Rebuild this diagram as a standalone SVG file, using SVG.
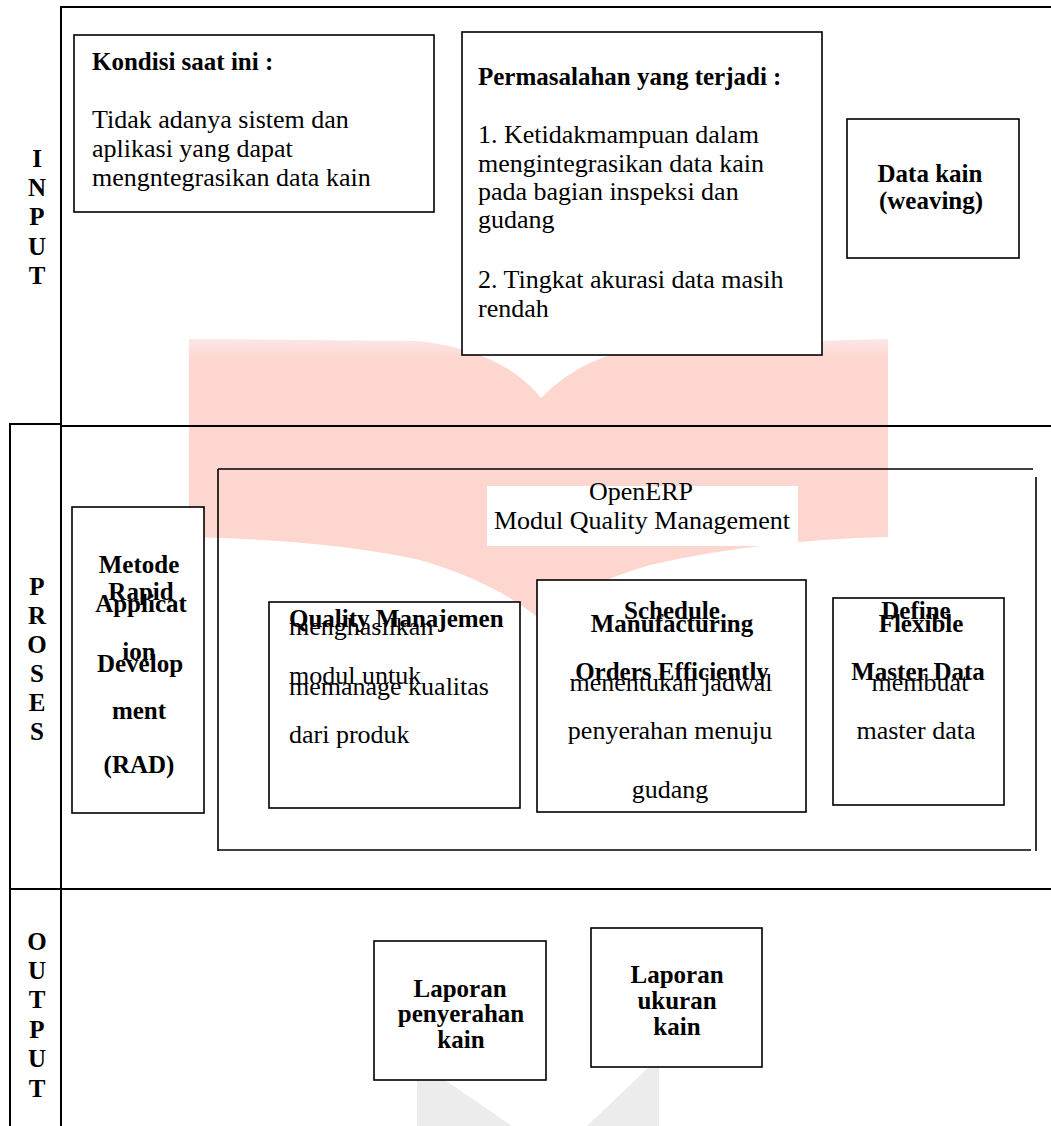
<svg xmlns="http://www.w3.org/2000/svg" width="1051" height="1126" viewBox="0 0 1051 1126">
<style>
text{font-family:"Liberation Serif","Times New Roman",serif;fill:#000}
.b{font-weight:bold;font-size:25px}
.n{font-size:26px}
.c{text-anchor:middle}
.lab{font-weight:bold;font-size:25px;text-anchor:middle}
.box{fill:#fff;stroke:#000;stroke-width:1.6}
.ln{stroke:#000;stroke-width:2;fill:none}
.thin{stroke:#000;stroke-width:1.6;fill:none}
</style>
<defs>
<linearGradient id="pg" x1="0" y1="339" x2="0" y2="360" gradientUnits="userSpaceOnUse">
<stop offset="0" stop-color="#fbe6e6"/>
<stop offset="1" stop-color="#fdd6cf"/>
</linearGradient>
</defs>
<rect x="0" y="0" width="1051" height="1126" fill="#fff"/>
<g id="watermark">
<path fill="url(#pg)" d="M189,339 L420,341 Q505,352 541,398 Q585,352 660,345 L888,339 L888,537 Q760,540 650,565 Q580,585 541,620 Q495,582 420,560 Q330,540 189,537 Z"/>
<path fill="#ececec" d="M417,1080 L445,1080 L512,1126 L417,1126 Z"/>
<path fill="#ececec" d="M648,1068 L659,1066 L659,1126 L587,1126 Z"/>
</g>
<g id="frame">
<line class="ln" x1="60" y1="7" x2="1051" y2="7"/>
<line class="ln" x1="61" y1="6" x2="61" y2="1126"/>
<line class="ln" x1="9" y1="424" x2="61" y2="424"/>
<line class="ln" x1="10" y1="423" x2="10" y2="1126"/>
<line class="ln" x1="61" y1="426" x2="1051" y2="426"/>
<line class="ln" x1="10" y1="889" x2="1051" y2="889"/>
</g>
<g id="label-input">
<text class="lab" x="37" y="167">I</text>
<text class="lab" x="37" y="196">N</text>
<text class="lab" x="37" y="225">P</text>
<text class="lab" x="37" y="255">U</text>
<text class="lab" x="37" y="284">T</text>
</g>
<g id="label-proses">
<text class="lab" x="37" y="595">P</text>
<text class="lab" x="37" y="624">R</text>
<text class="lab" x="37" y="653">O</text>
<text class="lab" x="37" y="682">S</text>
<text class="lab" x="37" y="711">E</text>
<text class="lab" x="37" y="740">S</text>
</g>
<g id="label-output">
<text class="lab" x="37" y="950">O</text>
<text class="lab" x="37" y="979">U</text>
<text class="lab" x="37" y="1008">T</text>
<text class="lab" x="37" y="1038">P</text>
<text class="lab" x="37" y="1067">U</text>
<text class="lab" x="37" y="1097">T</text>
</g>
<g id="kondisi">
<rect class="box" x="74" y="35" width="360" height="177"/>
<text class="b" x="92" y="70">Kondisi saat ini :</text>
<text class="n" x="92" y="128">Tidak adanya sistem dan</text>
<text class="n" x="92" y="157">aplikasi yang dapat</text>
<text class="n" x="92" y="186">mengntegrasikan data kain</text>
</g>
<g id="permasalahan">
<rect class="box" x="462" y="32" width="360" height="323"/>
<text class="b" x="478" y="85">Permasalahan yang terjadi :</text>
<text class="n" x="478" y="143">1. Ketidakmampuan dalam</text>
<text class="n" x="478" y="172">mengintegrasikan data kain</text>
<text class="n" x="478" y="200">pada bagian inspeksi dan</text>
<text class="n" x="478" y="228">gudang</text>
<text class="n" x="478" y="288">2. Tingkat akurasi data masih</text>
<text class="n" x="478" y="317">rendah</text>
</g>
<g id="data-kain">
<rect class="box" x="847" y="119" width="172" height="139"/>
<text class="b c" x="930" y="182">Data kain</text>
<text class="b c" x="931" y="209">(weaving)</text>
</g>
<g id="openerp">
<line class="thin" x1="218" y1="469" x2="1033" y2="469"/>
<line class="thin" x1="218" y1="469" x2="218" y2="851"/>
<line class="thin" x1="218" y1="850" x2="1031" y2="850"/>
<line class="thin" x1="1036" y1="477" x2="1036" y2="851"/>
<rect x="487" y="486" width="311" height="60" fill="#fff"/>
<text class="n c" x="641" y="500">OpenERP</text>
<text class="n c" x="642" y="529">Modul Quality Management</text>
</g>
<g id="rad">
<rect class="box" x="72" y="507" width="132" height="306"/>
<text class="b c" x="139" y="573">Metode</text>
<text class="b c" x="141" y="600">Rapid</text>
<text class="b c" x="141" y="612">Applicat</text>
<text class="b c" x="139" y="660">ion</text>
<text class="b c" x="140" y="672">Develop</text>
<text class="b c" x="139" y="719">ment</text>
<text class="b c" x="139" y="773">(RAD)</text>
</g>
<g id="quality">
<rect class="box" x="269" y="602" width="251" height="206"/>
<text class="b" x="289" y="627">Quality Manajemen</text>
<text class="n" x="289" y="635">menghasilkan</text>
<text class="n" x="289" y="684">modul untuk</text>
<text class="n" x="289" y="695">memanage kualitas</text>
<text class="n" x="289" y="743">dari produk</text>
</g>
<g id="schedule">
<rect class="box" x="537" y="580" width="269" height="232"/>
<text class="b c" x="672" y="619">Schedule</text>
<text class="b c" x="672" y="632">Manufacturing</text>
<text class="b c" x="672" y="680">Orders Efficiently</text>
<text class="n c" x="671" y="691">menentukan jadwal</text>
<text class="n c" x="670" y="739">penyerahan menuju</text>
<text class="n c" x="670" y="798">gudang</text>
</g>
<g id="define">
<rect class="box" x="833" y="598" width="171" height="207"/>
<text class="b c" x="916" y="619">Define</text>
<text class="b c" x="921" y="632">Flexible</text>
<text class="b c" x="918" y="680">Master Data</text>
<text class="n c" x="920" y="691">membuat</text>
<text class="n c" x="916" y="739">master data</text>
</g>
<g id="laporan-penyerahan">
<rect class="box" x="374" y="941" width="172" height="139"/>
<text class="b c" x="460" y="997">Laporan</text>
<text class="b c" x="461" y="1022">penyerahan</text>
<text class="b c" x="461" y="1048">kain</text>
</g>
<g id="laporan-ukuran">
<rect class="box" x="591" y="928" width="171" height="139"/>
<text class="b c" x="677" y="983">Laporan</text>
<text class="b c" x="677" y="1009">ukuran</text>
<text class="b c" x="677" y="1035">kain</text>
</g>
<g id="connectors"/>
</svg>
